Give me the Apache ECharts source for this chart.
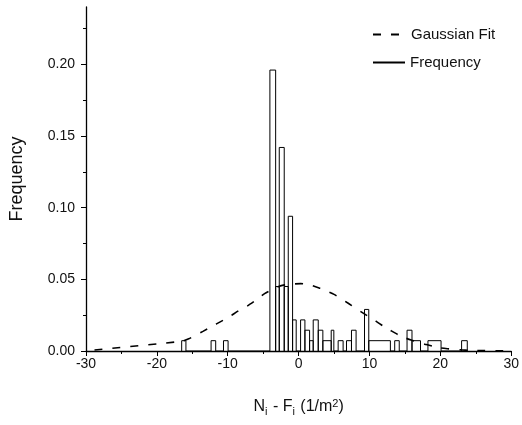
<!DOCTYPE html>
<html><head><meta charset="utf-8">
<script src="https://cdn.jsdelivr.net/npm/echarts@6/dist/echarts.min.js"></script>
<style>html,body{margin:0;padding:0;background:#fff}#c{width:522px;height:425px}</style>
</head><body><div id="c"></div>
<script>
// ---- data ----
const yTicks = [0, 0.05, 0.10, 0.15, 0.20];
const yMinorTicks = [0.025, 0.075, 0.125, 0.175, 0.225];
// histogram bins (left edge, right edge, frequency)
const binLeft  = [-16.5, -12.35, -10.6, -4.05, -3.24, -2.73, -2.03, -1.46, -0.85, 0.28, 0.89, 1.55, 2.06, 2.77, 3.42, 4.6, 5.58, 6.76, 7.46, 9.3, 9.9, 13.56, 15.3, 16.0, 18.25, 23.0];
const binRight = [-15.9, -11.7, -9.95, -3.24, -2.73, -2.03, -1.46, -0.85, -0.34, 0.89, 1.55, 2.06, 2.77, 3.42, 4.6, 4.97, 6.28, 7.46, 8.11, 9.9, 12.95, 14.2, 16.0, 17.2, 20.1, 23.8];
const binFreq  = [0.0072, 0.0072, 0.0072, 0.196, 0.045, 0.142, 0.045, 0.094, 0.0217, 0.0217, 0.0145, 0.0072, 0.0217, 0.0145, 0.0072, 0.0145, 0.0072, 0.0072, 0.0145, 0.029, 0.0072, 0.0072, 0.0145, 0.0072, 0.0072, 0.0072];
// Gaussian fit curve
const gaussX = [-28.8, -16.5, -15.5, -14.5, -13.5, -12.3, -11.0, -9.8, -8.5, -7.2, -6.0, -4.8, -3.5, -2.3, -1.0, 0.3, 1.6, 2.9, 4.0, 5.0, 6.0, 7.0, 8.0, 9.0, 10.0, 11.0, 12.0, 13.0, 14.0, 15.0, 16.0, 17.0, 18.0, 19.0, 20.0, 21.0, 22.0, 23.0, 24.0, 26.0, 28.0, 30.0];
const gaussY = [0.0007, 0.0068, 0.0085, 0.0111, 0.0137, 0.0170, 0.0205, 0.0238, 0.0280, 0.0315, 0.0355, 0.0400, 0.0435, 0.0458, 0.0467, 0.0470, 0.0462, 0.0440, 0.0418, 0.0395, 0.0365, 0.0333, 0.0300, 0.0268, 0.0236, 0.0205, 0.0172, 0.0143, 0.0115, 0.0092, 0.0075, 0.0060, 0.0045, 0.0033, 0.0022, 0.0016, 0.0012, 0.0008, 0.0005, 0.0003, 0.0002, 0.0001];

// ---- build series data ----
const histPts = [];
for (let i = 0; i < binLeft.length; i++) {
  histPts.push([binLeft[i], 0], [binLeft[i], binFreq[i]], [binRight[i], binFreq[i]], [binRight[i], 0]);
}
const gaussPts = gaussX.map((x, i) => [x, gaussY[i]]);

const FONT = 'Liberation Sans, Arial, sans-serif';
const gridRect = { left: 86, right: 9, top: 7, bottom: 74 };
const hiddenSymbol = { color: 'rgba(0,0,0,0)', borderColor: 'rgba(0,0,0,0)', borderWidth: 0, opacity: 0 };
const chart = echarts.init(document.getElementById('c'), null, { renderer: 'canvas' });
chart.setOption({
  animation: false,
  backgroundColor: '#fff',
  textStyle: { fontFamily: FONT },
  grid: [Object.assign({ containLabel: false }, gridRect), Object.assign({ containLabel: false }, gridRect)],
  legend: [
    { data: ['Gaussian Fit'], left: 372, top: 27, itemWidth: 33, itemHeight: 14, padding: 0,
      itemStyle: hiddenSymbol,
      textStyle: { fontFamily: FONT, fontSize: 15, color: '#111' } },
    { data: ['Frequency'], left: 372, top: 55, itemWidth: 32, itemHeight: 14, padding: 0,
      itemStyle: hiddenSymbol,
      textStyle: { fontFamily: FONT, fontSize: 15, color: '#111' } }
  ],
  xAxis: [{
    type: 'value', gridIndex: 0, min: -30, max: 30, interval: 10,
    axisLine: { show: true, onZero: false, lineStyle: { color: '#000', width: 1.3 } },
    axisTick: { show: true, inside: false, length: 5, lineStyle: { color: '#000', width: 1 } },
    minorTick: { show: true, splitNumber: 2, length: 3, lineStyle: { color: '#000', width: 1 } },
    splitLine: { show: false },
    axisLabel: { fontFamily: FONT, fontSize: 14, color: '#111', margin: 6 },
    name: 'N{sub|i} - F{sub|i} (1/m{sup|2})',
    nameLocation: 'middle', nameGap: 46,
    nameTextStyle: {
      fontFamily: FONT, fontSize: 16, color: '#111',
      rich: {
        sub: { fontFamily: FONT, fontSize: 11, color: '#111', padding: [9, 1, 0, 0] },
        sup: { fontFamily: FONT, fontSize: 11, color: '#111', padding: [0, 0, 7, 0] }
      }
    }
  }, {
    type: 'value', gridIndex: 1, min: -30, max: 30, show: false
  }],
  yAxis: [{
    type: 'value', gridIndex: 0, min: 0, max: 0.24, interval: 0.05,
    axisLine: { show: true, onZero: false, lineStyle: { color: '#000', width: 1.3 } },
    axisTick: { show: true, inside: false, length: 5, customValues: yTicks, lineStyle: { color: '#000', width: 1 } },
    splitLine: { show: false },
    axisLabel: { fontFamily: FONT, fontSize: 14, color: '#111', margin: 11, customValues: yTicks,
      formatter: v => v.toFixed(2) },
    name: 'Frequency', nameLocation: 'middle', nameRotate: 90, nameGap: 60,
    nameTextStyle: { fontFamily: FONT, fontSize: 18, color: '#111' }
  }, {
    type: 'value', gridIndex: 1, min: 0, max: 0.24, position: 'left',
    axisLine: { show: false, onZero: false },
    axisTick: { show: true, inside: false, length: 3, customValues: yMinorTicks, lineStyle: { color: '#000', width: 1 } },
    axisLabel: { show: false },
    splitLine: { show: false }
  }],
  series: [
    {
      name: 'Frequency', type: 'line', xAxisIndex: 0, yAxisIndex: 0,
      data: histPts, symbol: 'none', showSymbol: false,
      lineStyle: { color: '#000', width: 1 }, itemStyle: { color: '#000' },
      z: 2
    },
    {
      name: 'Gaussian Fit', type: 'line', xAxisIndex: 0, yAxisIndex: 0,
      data: gaussPts, symbol: 'none', showSymbol: false, smooth: 0.2,
      lineStyle: { color: '#000', width: 1.6, type: [8, 10] }, itemStyle: { color: '#000' },
      z: 3
    }
  ]
});
</script></body></html>
